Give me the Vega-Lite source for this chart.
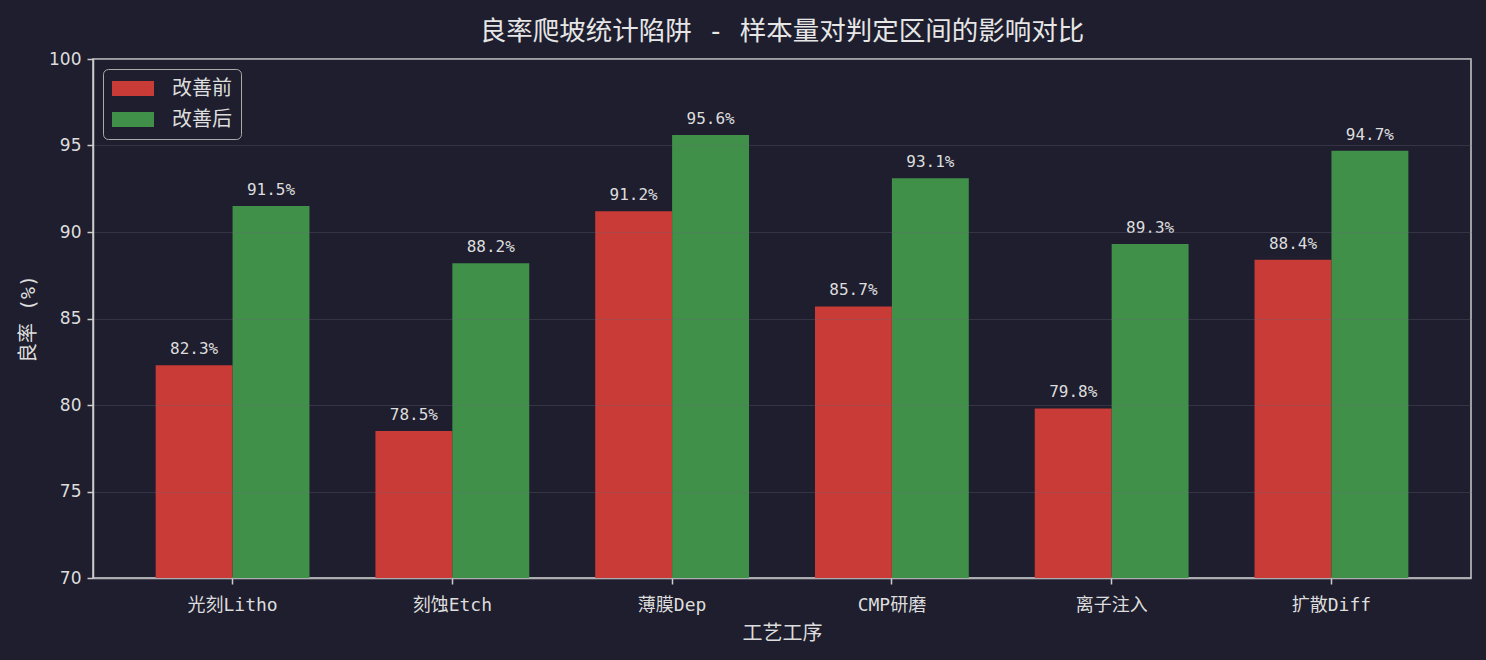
{
  "$schema": "https://vega.github.io/schema/vega-lite/v6.json",
  "width": 1378,
  "height": 519,
  "autosize": {"type": "none"},
  "padding": {"left": 93, "top": 59, "right": 15, "bottom": 82},
  "background": "#1e1e2e",
  "title": {
    "text": "良率爬坡统计陷阱 - 样本量对判定区间的影响对比",
    "font": "'DejaVu Sans Mono', 'Noto Sans CJK SC'",
    "fontSize": 26.5,
    "fontWeight": "normal",
    "color": "#e6e6e6",
    "anchor": "middle",
    "offset": 5
  },
  "config": {
    "view": {"stroke": "#cccccc", "strokeWidth": 1.5},
    "axis": {
      "domainColor": "#cccccc",
      "domainWidth": 1.5,
      "tickColor": "#cccccc",
      "tickSize": 6,
      "tickWidth": 1.5,
      "labelColor": "#dddddd",
      "titleColor": "#dddddd",
      "titleFontWeight": "normal"
    }
  },
  "data": {
    "values": [
      {"process": "光刻Litho", "stage": "改善前", "yield": 82.3, "label": "82.3%"},
      {"process": "光刻Litho", "stage": "改善后", "yield": 91.5, "label": "91.5%"},
      {"process": "刻蚀Etch", "stage": "改善前", "yield": 78.5, "label": "78.5%"},
      {"process": "刻蚀Etch", "stage": "改善后", "yield": 88.2, "label": "88.2%"},
      {"process": "薄膜Dep", "stage": "改善前", "yield": 91.2, "label": "91.2%"},
      {"process": "薄膜Dep", "stage": "改善后", "yield": 95.6, "label": "95.6%"},
      {"process": "CMP研磨", "stage": "改善前", "yield": 85.7, "label": "85.7%"},
      {"process": "CMP研磨", "stage": "改善后", "yield": 93.1, "label": "93.1%"},
      {"process": "离子注入", "stage": "改善前", "yield": 79.8, "label": "79.8%"},
      {"process": "离子注入", "stage": "改善后", "yield": 89.3, "label": "89.3%"},
      {"process": "扩散Diff", "stage": "改善前", "yield": 88.4, "label": "88.4%"},
      {"process": "扩散Diff", "stage": "改善后", "yield": 94.7, "label": "94.7%"}
    ]
  },
  "encoding": {
    "x": {
      "field": "process",
      "type": "nominal",
      "sort": null,
      "title": "工艺工序",
      "scale": {"paddingInner": 0.3, "paddingOuter": 0.285},
      "axis": {
        "labelAngle": 0,
        "labelFont": "'DejaVu Sans Mono', 'Noto Sans CJK SC'",
        "labelFontSize": 18,
        "labelPadding": 12,
        "titleFont": "Noto Sans CJK SC",
        "titleFontSize": 20,
        "titlePadding": 9,
        "grid": false
      }
    },
    "xOffset": {
      "field": "stage",
      "sort": ["改善前", "改善后"],
      "scale": {"paddingInner": 0, "paddingOuter": 0}
    },
    "y": {
      "field": "yield",
      "type": "quantitative",
      "title": "良率 (%)",
      "scale": {"domain": [70, 100], "nice": false, "zero": false},
      "axis": {
        "values": [70, 75, 80, 85, 90, 95, 100],
        "labelFont": "DejaVu Sans",
        "labelFontSize": 17,
        "labelPadding": 6,
        "titleFont": "'DejaVu Sans Mono', 'Noto Sans CJK SC'",
        "titleFontSize": 20,
        "titlePadding": 10,
        "grid": true,
        "gridColor": "#6a6a7a",
        "gridOpacity": 0.3,
        "gridWidth": 1.2,
        "zindex": 1
      }
    }
  },
  "layer": [
    {
      "mark": {"type": "bar", "clip": true},
      "encoding": {
        "color": {
          "field": "stage",
          "type": "nominal",
          "sort": ["改善前", "改善后"],
          "scale": {"domain": ["改善前", "改善后"], "range": ["#c83b36", "#40904a"]},
          "legend": {
            "title": null,
            "orient": "top-left",
            "offset": 10,
            "fillColor": "#1e1e2e",
            "strokeColor": "#aaaaaa",
            "cornerRadius": 5,
            "padding": 9,
            "symbolType": "M-1,-0.72H3V0.72H-1Z",
            "symbolSize": 441,
            "symbolStrokeWidth": 0,
            "symbolOpacity": 1,
            "labelFont": "Noto Sans CJK SC",
            "labelFontSize": 20,
            "labelColor": "#dddddd",
            "labelOffset": 39,
            "rowPadding": 10
          }
        }
      }
    },
    {
      "mark": {
        "type": "text",
        "baseline": "alphabetic",
        "align": "center",
        "dy": -11,
        "font": "DejaVu Sans Mono",
        "fontSize": 16,
        "color": "#dddddd"
      },
      "encoding": {
        "text": {"field": "label"}
      }
    }
  ]
}
